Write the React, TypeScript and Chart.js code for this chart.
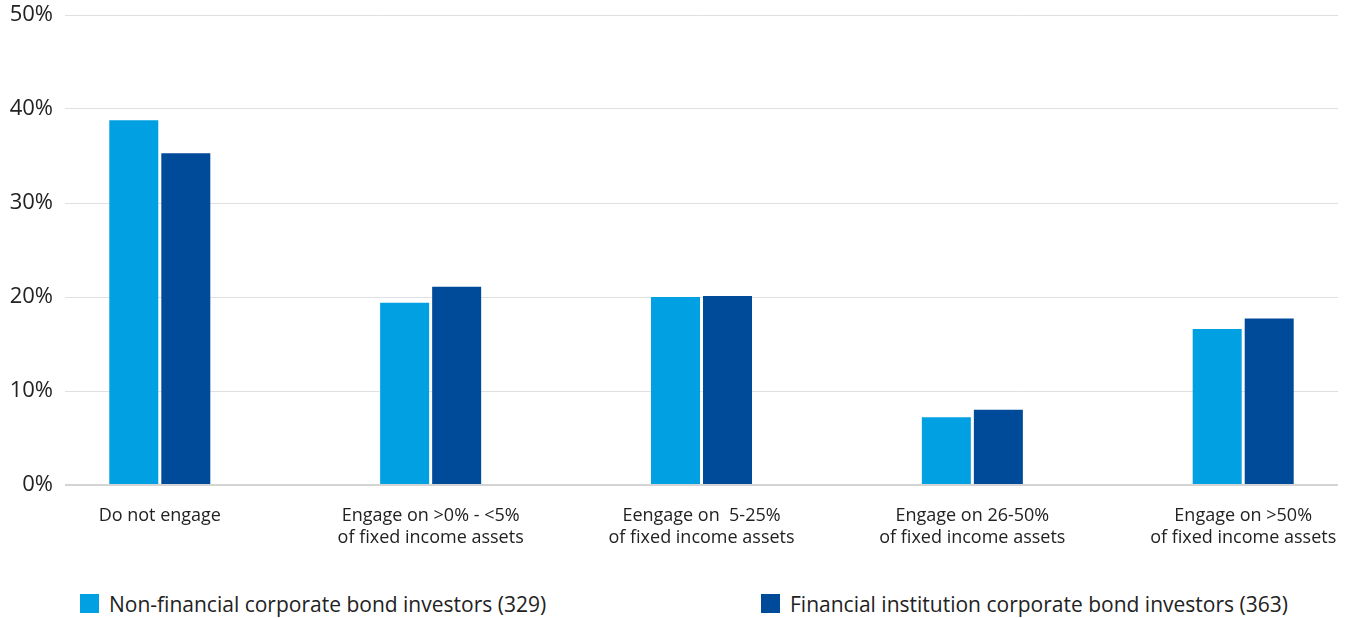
import React, { useEffect, useRef } from "react";
import { Chart, registerables } from "chart.js";

Chart.register(...registerables);

const categories: string[][] = [
  ["Do not engage"],
  ["Engage on >0% - <5%", "of fixed income assets"],
  ["Eengage on  5-25%", "of fixed income assets"],
  ["Engage on 26-50%", "of fixed income assets"],
  ["Engage on >50%", "of fixed income assets"],
];
const nonFinancial: number[] = [38.8, 19.4, 20.0, 7.2, 16.6];
const financial: number[] = [35.3, 21.1, 20.1, 8.0, 17.7];
const seriesNames: string[] = [
  "Non-financial corporate bond investors (329)",
  "Financial institution corporate bond investors (363)",
];
const seriesColors: string[] = ["#00a0e2", "#004a9a"];
const yTicks: number[] = [0, 10, 20, 30, 40, 50];

const FONT = "'Open Sans', Lato, sans-serif";

export default function App() {
  const ref = useRef<HTMLCanvasElement | null>(null);

  useEffect(() => {
    if (!ref.current) return;
    const chart = new Chart(ref.current, {
      type: "bar",
      data: {
        datasets: [
          {
            label: seriesNames[0],
            data: nonFinancial.map((v, i) => ({ x: i, y: v })),
            backgroundColor: seriesColors[0],
            categoryPercentage: 0.3841,
            barPercentage: 0.942,
          },
          {
            label: seriesNames[1],
            data: financial.map((v, i) => ({ x: i, y: v })),
            backgroundColor: seriesColors[1],
            categoryPercentage: 0.3841,
            barPercentage: 0.942,
          },
        ],
      },
      options: {
        animation: false,
        responsive: true,
        maintainAspectRatio: false,
        layout: { padding: { left: 0, right: 19, top: 15, bottom: 0 } },
        plugins: {
          legend: { display: false },
          tooltip: { enabled: false },
        },
        scales: {
          x: {
            type: "linear",
            offset: false,
            min: -0.35,
            max: 4.35,
            afterBuildTicks: (scale: any) => {
              scale.ticks = categories.map((_, i) => ({ value: i }));
            },
            afterFit: (scale: any) => {
              scale.height = 85;
              scale.paddingLeft = 0;
              scale.paddingRight = 0;
            },
            grid: { display: false, drawTicks: false },
            border: { display: false },
            ticks: {
              autoSkip: false,
              maxRotation: 0,
              padding: 20,
              color: "#222",
              font: { family: FONT, size: 18, lineHeight: 1.22 },
              callback: (v: any) => categories[Number(v)] ?? "",
            },
          },
          y: {
            min: 0,
            max: 50,
            afterBuildTicks: (scale: any) => {
              scale.ticks = yTicks.map((v) => ({ value: v }));
            },
            afterFit: (scale: any) => {
              scale.width = 65;
              scale.paddingTop = 0;
              scale.paddingBottom = 0;
            },
            grid: {
              drawTicks: false,
              color: (ctx: any) => (ctx.tick && ctx.tick.value === 0 ? "#d4d4d4" : "#e0e0e0"),
              lineWidth: (ctx: any) => (ctx.tick && ctx.tick.value === 0 ? 2 : 1),
            },
            border: { display: false },
            ticks: {
              padding: 12,
              color: "#222",
              font: { family: FONT, size: 22 },
              callback: (v: any) => `${v}%`,
            },
          },
        },
      },
    });
    return () => chart.destroy();
  }, []);

  const legendLefts = [80, 761];

  return (
    <div
      style={{
        position: "absolute",
        left: 0,
        top: 0,
        width: 1357,
        height: 618,
        background: "#fff",
        overflow: "hidden",
      }}
    >
      <div style={{ position: "absolute", left: 0, top: 0, width: 1357, height: 570 }}>
        <canvas ref={ref} />
      </div>
      {seriesNames.map((name, i) => (
        <div
          key={name}
          style={{
            position: "absolute",
            left: legendLefts[i],
            top: 594,
            height: 19,
            display: "flex",
            alignItems: "center",
            whiteSpace: "nowrap",
            fontFamily: FONT,
            fontSize: 21,
            color: "#222",
          }}
        >
          <span
            style={{
              display: "inline-block",
              width: 19,
              height: 19,
              background: seriesColors[i],
              marginRight: 10,
            }}
          />
          <span>{name}</span>
        </div>
      ))}
    </div>
  );
}
